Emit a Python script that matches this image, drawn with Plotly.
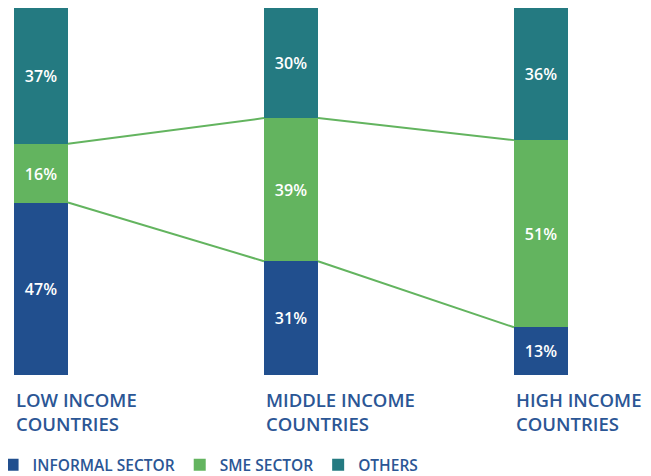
import plotly.graph_objects as go

categories = ["LOW INCOME<br>COUNTRIES", "MIDDLE INCOME<br>COUNTRIES", "HIGH INCOME<br>COUNTRIES"]
informal = [47, 31, 13]
sme = [16, 39, 51]
others = [37, 30, 36]
series_names = ["INFORMAL SECTOR", "SME SECTOR", "OTHERS"]

colors = ["#214F8E", "#63B45F", "#247A81"]
label_color = "#2B5695"
font_family = "Open Sans, Lato, sans-serif"

x = list(range(len(categories)))
w = 0.216

fig = go.Figure()
for name, vals, col in zip(series_names, [informal, sme, others], colors):
    fig.add_trace(go.Bar(
        x=x, y=vals, name=name, width=w, marker=dict(color=col, line=dict(width=0)),
        texttemplate="%{y}%", textposition="inside", insidetextanchor="middle",
        textangle=0, textfont=dict(color="white", size=16, family=font_family, weight=600),
        hoverinfo="skip",
    ))

# connecting lines between SME boundaries
bottoms = informal
tops = [a + b for a, b in zip(informal, sme)]
lx, ly = [], []
for bound in (tops, bottoms):
    for i in range(len(x) - 1):
        lx += [x[i] + w / 2, x[i + 1] - w / 2, None]
        ly += [bound[i], bound[i + 1], None]
fig.add_trace(go.Scatter(x=lx, y=ly, mode="lines", line=dict(color="#63B45F", width=2),
                         showlegend=False, hoverinfo="skip"))

for i, c in enumerate(categories):
    fig.add_annotation(x=x[i] - w / 2, y=0, xref="x", yref="paper", yshift=-10,
                       text=c, showarrow=False, xanchor="left", yanchor="top", align="left",
                       font=dict(size=18.5, color=label_color, family=font_family, weight=600))

fig.update_layout(
    barmode="stack",
    width=643, height=468,
    margin=dict(l=0, r=0, t=0, b=101, autoexpand=False),
    paper_bgcolor="white", plot_bgcolor="white",
    xaxis=dict(range=[-0.132, 2.44], visible=False),
    yaxis=dict(range=[0, 100], visible=False),
    bargap=0,
    showlegend=True,
    legend=dict(orientation="h", x=-0.024, xanchor="left", y=-0.246, yanchor="middle",
                font=dict(size=15.5, color=label_color, family=font_family, weight=600),
                itemclick=False, traceorder="normal"),
    font=dict(family=font_family),
)

fig.write_html("out.html")
